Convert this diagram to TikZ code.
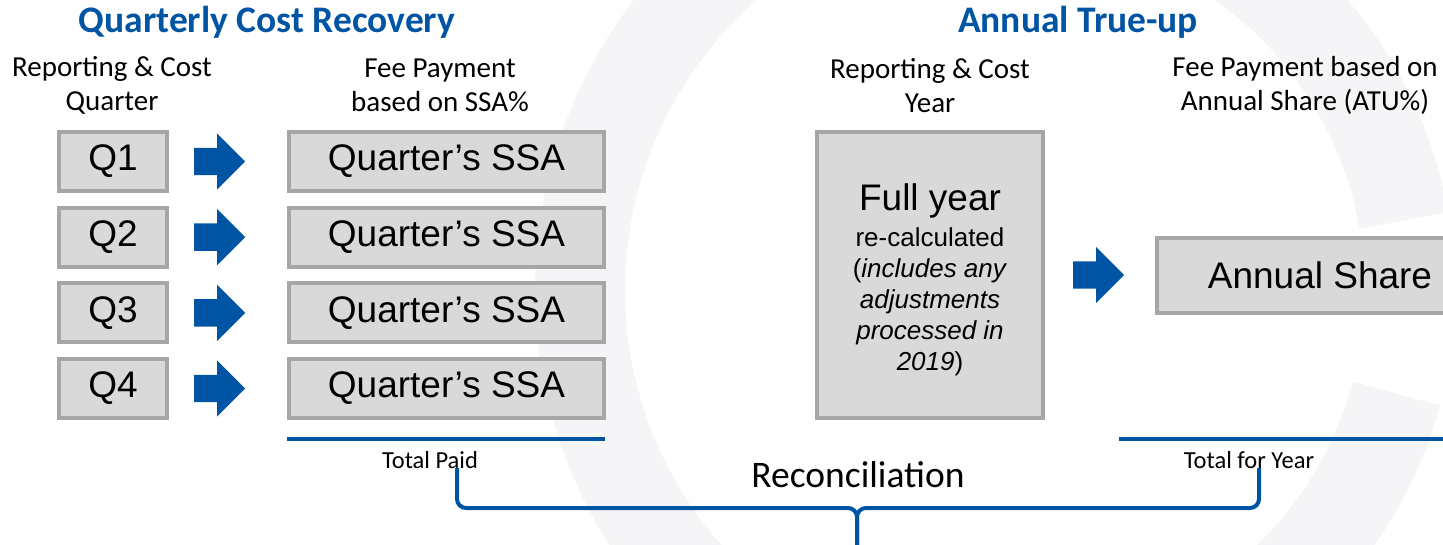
\documentclass[tikz,border=0pt]{standalone}
\usepackage{fontspec}
\setmainfont{Carlito}
\newfontfamily\arialfont{Liberation Sans}
\usetikzlibrary{positioning}
\usetikzlibrary{shapes.arrows}
\definecolor{boxgray}{HTML}{A6A6A6}
\definecolor{boxfill}{HTML}{D9D9D9}
\definecolor{recblue}{HTML}{0054A4}
\definecolor{markgray}{HTML}{F5F5F7}
\newcommand\finetext{\fontsize{26}{31}\selectfont}
\tikzset{
	x=1pt, y=-1pt,
	costbox/.style={
		rectangle,
		draw=boxgray, fill=boxfill,
		line width=4pt,
		inner sep=0pt,
		text centered,
		font=\arialfont\fontsize{37}{43}\selectfont},
	blockarrow/.style={
		single arrow,
		fill=recblue,
		inner sep=0pt,
		text height=27pt, text depth=0pt, text width=0pt,
		minimum height=51pt,
		single arrow head extend=14.5pt},
	heading/.style={anchor=base, text=recblue, font=\bfseries\fontsize{37.5}{43}\selectfont},
	colhead/.style={align=center, inner sep=0pt, font=\fontsize{29}{34}\selectfont},
	total/.style={anchor=base, font=\fontsize{24.5}{28}\selectfont},
	totalline/.style={draw=recblue, line width=4pt},
	bracket/.style={draw=recblue, line width=4pt, rounded corners=9pt},
	watermark/.style={draw=markgray, line width=90pt},
}

\begin{document}
\begin{tikzpicture}
	\useasboundingbox (0,0) rectangle (1443,545);
	% faint logo in the background
	\draw[watermark] (1010,290) ++(128:430) arc[start angle=128, end angle=232, radius=430];
	\draw[watermark] (1010,290) ++(-62:400) arc[start angle=-62, end angle=-10, radius=400];
	\draw[watermark] (1010,290) ++(15:400) arc[start angle=15, end angle=58, radius=400];

	% quarterly side
	\node[heading] (qhead) at (267,33) {Quarterly Cost Recovery};
	\node[colhead] (qrep) at (112,85.5) {Reporting \& Cost\\Quarter};
	\node[colhead] (qfee) at (440,85.5) {Fee Payment\\based on SSA\%};
	\foreach \n [count=\i from 0] in {1,2,3,4} {
		\node[costbox, minimum width=108pt, minimum height=59pt] (q\n) at (113,161.5+75.67*\i) {Q\n};
		\node[blockarrow, right=25pt of q\n] (qa\n) {};
		\node[costbox, minimum width=315pt, minimum height=59pt] (ssa\n) at (446.5,161.5+75.67*\i) {Quarter’s SSA};
	}
	\draw[totalline] (287,439) -- (605,439);
	\node[total] (paid) at (430,468) {Total Paid};

	% annual side
	\node[heading] (ahead) at (1078,33) {Annual True-up};
	\node[colhead] (arep) at (930,85.5) {Reporting \& Cost\\Year};
	\node[colhead] (afee) at (1305,85.5) {Fee Payment based on\\Annual Share (ATU\%)};
	\node[costbox, minimum width=226pt, minimum height=286pt] (full) at (930,275) {};
	\node[align=center, font=\arialfont\finetext] (fulltext) at (930,280)
		{{\fontsize{37}{43}\selectfont Full year}\\[5pt]
		 re-calculated\\
		 (\textit{includes any}\\
		 \textit{adjustments}\\
		 \textit{processed in}\\
		 \textit{2019})};
	\node[blockarrow, right=28pt of full] (aa) {};
	\node[costbox, minimum width=326pt, minimum height=75pt] (share) at (1320,275.5) {Annual Share};
	\draw[totalline] (1119,439) -- (1443,439);
	\node[total] (year) at (1249,468) {Total for Year};

	% reconciliation bracket
	\node[anchor=base, font=\fontsize{37.5}{42}\selectfont] (recon) at (858,487) {Reconciliation};
	\coordinate (paidtick) at (457,468);
	\coordinate (yeartick) at (1259,468);
	\coordinate (tip) at (857,545);
	\draw[bracket] (paidtick) |- (tip |- 0,508) -- (tip);
	\draw[bracket] (yeartick) |- (tip |- 0,508) -- (tip);
\end{tikzpicture}
\end{document}
